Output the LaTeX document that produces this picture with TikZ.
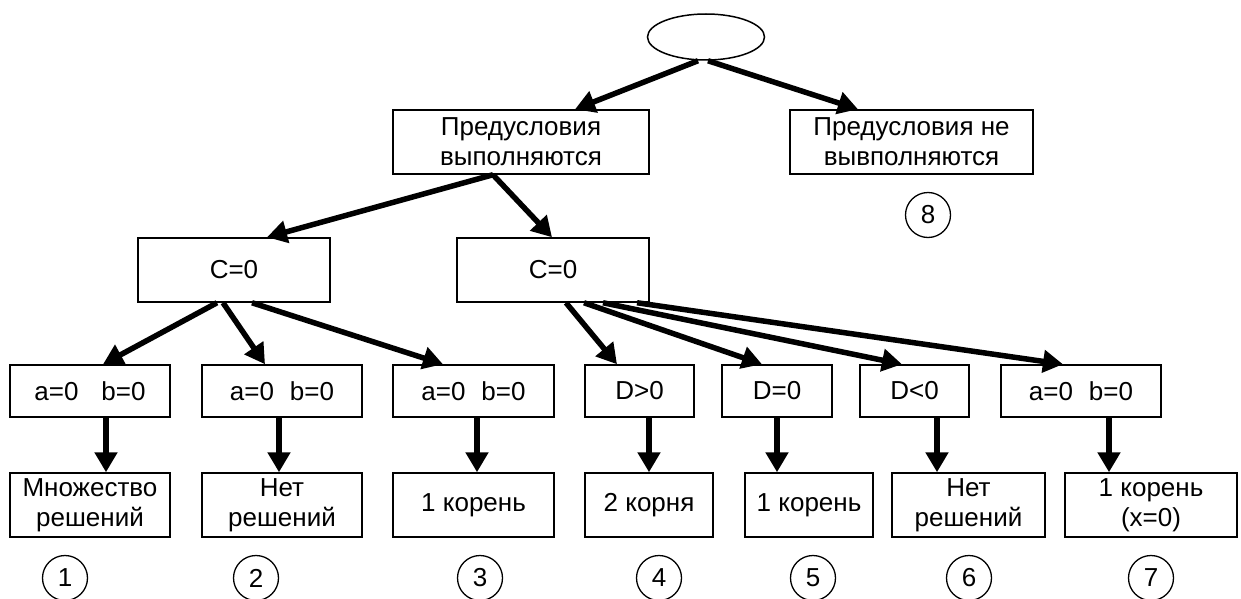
\documentclass[tikz,border=0pt]{standalone}
\usepackage{fontspec}
\setmainfont{Liberation Sans}
\usetikzlibrary{arrows.meta,shapes.geometric}
\begin{document}
\begin{tikzpicture}[x=1pt,y=-1pt,
  every node/.style={font=\fontsize{26}{30}\selectfont, inner sep=0pt, align=center},
  box/.style={draw, line width=1.5pt, rectangle},
  lvthree/.style={box, minimum height=52pt},
  lvfour/.style={box, minimum height=64pt},
  num/.style={draw, line width=1.3pt, circle, minimum size=45pt},
  arr/.style={line width=5.5pt, -{Triangle[length=20pt,width=22pt]}}]
\useasboundingbox[fill=white] (0,0) rectangle (1241,599);
% top
\node[draw, line width=1.5pt, ellipse, minimum width=117pt, minimum height=46pt] (root) at (706,37) {};
\node[box, minimum width=256pt, minimum height=64pt] (preL) at (521,142) {Предусловия\\выполняются};
\node[box, minimum width=243pt, minimum height=64pt] (preR) at (911.5,142) {Предусловия не\\вывполняются};
\node[num] (n8) at (928,215) {8};
% level 2
\node[box, minimum width=192pt, minimum height=64pt] (cL) at (234,270) {C=0};
\node[box, minimum width=192pt, minimum height=64pt] (cR) at (553,270) {C=0};
% level 3
\node[lvthree, minimum width=160pt] (b1) at (90,391) {a=0\hspace{23pt}b=0};
\node[lvthree, minimum width=160pt] (b2) at (282,391) {a=0\hspace{16pt}b=0};
\node[lvthree, minimum width=161pt] (b3) at (473.5,391) {a=0\hspace{16pt}b=0};
\node[lvthree, minimum width=109pt] (b4) at (639.5,391) {D>0};
\node[lvthree, minimum width=110pt] (b5) at (777,391) {D=0};
\node[lvthree, minimum width=109pt] (b6) at (914.5,391) {D<0};
\node[lvthree, minimum width=160pt] (b7) at (1081,391) {a=0\hspace{16pt}b=0};
% level 4
\node[lvfour, minimum width=160pt] (r1) at (90,505) {Множество\\решений};
\node[lvfour, minimum width=160pt] (r2) at (282,505) {Нет\\решений};
\node[lvfour, minimum width=161pt] (r3) at (473.5,505) {1 корень};
\node[lvfour, minimum width=128pt] (r4) at (649,505) {2 корня};
\node[lvfour, minimum width=128pt] (r5) at (809,505) {1 корень};
\node[lvfour, minimum width=153pt] (r6) at (968.5,505) {Нет\\решений};
\node[lvfour, minimum width=172pt] (r7) at (1151,505) {1 корень\\(x=0)};
% numbers
\node[num] (n1) at (65,578) {1};
\node[num] (n2) at (256,578) {2};
\node[num] (n3) at (480,578) {3};
\node[num] (n4) at (659,578) {4};
\node[num] (n5) at (813,578) {5};
\node[num] (n6) at (969,578) {6};
\node[num] (n7) at (1151,578) {7};
% arrows
\draw[arr] ([xshift=-8pt]root.south) -- ([xshift=54pt]preL.north);
\draw[arr] ([xshift=2pt]root.south) -- ([xshift=-53.5pt]preR.north);
\draw[arr] ([xshift=-28pt]preL.south) -- ([xshift=33pt]cL.north);
\draw[arr] ([xshift=-28pt]preL.south) -- ([xshift=-1pt]cR.north);
\draw[arr] ([xshift=-17pt]cL.south) -- ([xshift=13pt]b1.north);
\draw[arr] ([xshift=-11pt]cL.south) -- ([xshift=-17pt]b2.north);
\draw[arr] ([xshift=18pt]cL.south) -- ([xshift=-30.5pt]b3.north);
\draw[arr] ([xshift=13pt]cR.south) -- ([xshift=-22.5pt]b4.north);
\draw[arr] ([xshift=31pt]cR.south) -- ([xshift=-15pt]b5.north);
\draw[arr] ([xshift=50pt]cR.south) -- ([xshift=-12.5pt]b6.north);
\draw[arr] ([xshift=84pt]cR.south) -- ([xshift=-18pt]b7.north);
\draw[arr] ([xshift=16pt]b1.south) -- ([xshift=16pt]b1.south |- r1.north);
\draw[arr] ([xshift=-3pt]b2.south) -- ([xshift=-3pt]b2.south |- r2.north);
\draw[arr] ([xshift=3.5pt]b3.south) -- ([xshift=3.5pt]b3.south |- r3.north);
\draw[arr] ([xshift=9.5pt]b4.south) -- ([xshift=9.5pt]b4.south |- r4.north);
\draw[arr] (b5.south) -- (b5.south |- r5.north);
\draw[arr] ([xshift=22.5pt]b6.south) -- ([xshift=22.5pt]b6.south |- r6.north);
\draw[arr] ([xshift=28pt]b7.south) -- ([xshift=28pt]b7.south |- r7.north);
\end{tikzpicture}
\end{document}
